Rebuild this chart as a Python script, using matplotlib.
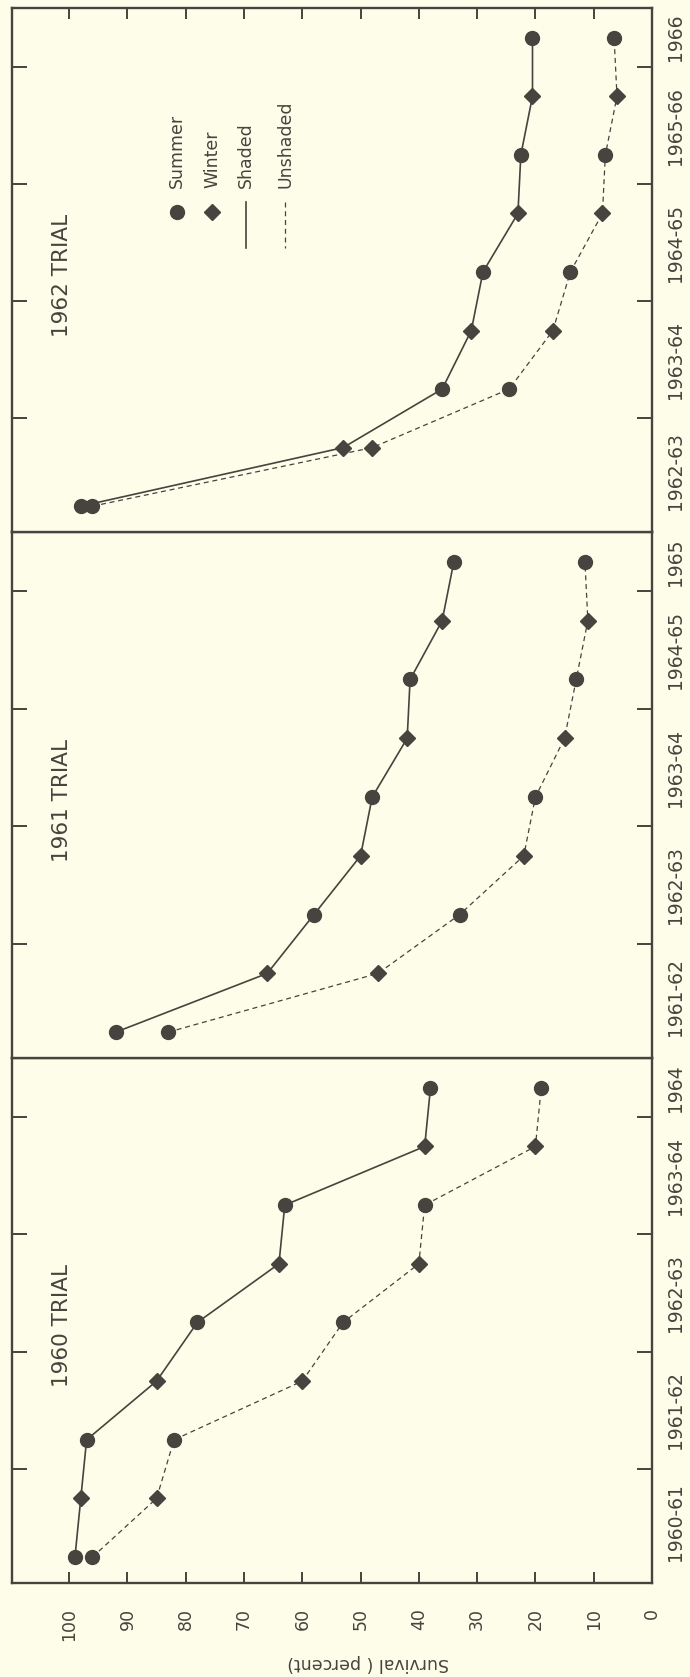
import numpy as np
import matplotlib.pyplot as plt

# survival (percent) at successive summer / winter counts, one list per trial
trials = ['1960 TRIAL', '1961 TRIAL', '1962 TRIAL']
shaded_1960 = [99, 98, 97, 85, 78, 64, 63, 39, 38]
unshaded_1960 = [96, 85, 82, 60, 53, 40, 39, 20, 19]
shaded_1961 = [92, 66, 58, 50, 48, 42, 41.5, 36, 34]
unshaded_1961 = [83, 47, 33, 22, 20, 15, 13, 11, 11.5]
shaded_1962 = [98, 53, 36, 31, 29, 23, 22.5, 20.5, 20.5]
unshaded_1962 = [96, 48, 24.5, 17, 14, 8.5, 8, 6, 6.5]

seasons_1960 = ['1960-61', '1961-62', '1962-63', '1963-64', '1964']
seasons_1961 = ['1961-62', '1962-63', '1963-64', '1964-65', '1965']
seasons_1962 = ['1962-63', '1963-64', '1964-65', '1965-66', '1966']

survival_ticks = list(range(0, 101, 10))

paper = '#fdfde9'
ink = '#47433e'

count = np.arange(len(shaded_1960))       # summer, winter, summer, ...
season_bounds = [1.5, 3.5, 5.5, 7.5]
season_centres = [0.6, 2.5, 4.5, 6.5, 8.0]

panels = [
    (trials[0], shaded_1960, unshaded_1960, seasons_1960, [0.0174, 0.0561, 0.9275, 0.3131]),
    (trials[1], shaded_1961, unshaded_1961, seasons_1961, [0.0174, 0.3691, 0.9275, 0.3137]),
    (trials[2], shaded_1962, unshaded_1962, seasons_1962, [0.0174, 0.6828, 0.9275, 0.3125]),
]

fig = plt.figure(figsize=(6.9, 16.77), dpi=100, facecolor=paper)

axes = []
for i, (name, shaded, unshaded, seasons, box) in enumerate(panels):
    ax = fig.add_axes(box)
    ax.set_facecolor(paper)
    axes.append(ax)

    ax.plot(shaded, count, '-', color=ink, lw=1.2)
    ax.plot(unshaded, count, linestyle=(0, (4, 3)), color=ink, lw=0.9)
    for vals in (shaded, unshaded):
        ax.plot(vals[0::2], count[0::2], 'o', ms=10, color=ink, mec=ink)
        ax.plot(vals[1::2], count[1::2], 'D', ms=8, color=ink, mec=ink)

    ax.set_xlim(109.8, 0)
    ax.set_ylim(-0.44, 8.51)

    # season boundaries on both sides, season names on the right
    ax.set_yticks(season_bounds)
    ax.set_yticklabels([])
    ax.tick_params(axis='y', which='major', direction='in', left=True, right=True,
                   length=11, width=1.4, color=ink, labelleft=False, labelright=False)
    ax.set_yticks(season_centres, minor=True)
    ax.set_yticklabels(seasons, minor=True, rotation=90, va='center')
    ax.tick_params(axis='y', which='minor', left=False, right=False, length=0,
                   labelleft=False, labelright=True, pad=10, labelsize=13.5,
                   labelcolor=ink)

    ax.set_xticks(survival_ticks)
    if i == 0:
        ax.tick_params(axis='x', direction='in', bottom=True, top=False, length=8,
                       width=1.4, color=ink, labelbottom=True, labelrotation=90,
                       pad=18, labelsize=12.5, labelcolor=ink)
    elif i == 2:
        ax.tick_params(axis='x', direction='in', bottom=False, top=True, length=8,
                       width=1.4, color=ink, labelbottom=False)
    else:
        ax.tick_params(axis='x', bottom=False, top=False, labelbottom=False)

    for s in ax.spines.values():
        s.set_linewidth(1.7)
        s.set_color(ink)

    ax.text(0.078, 0.49, name, transform=ax.transAxes, rotation=90,
            ha='center', va='center', fontsize=15.5, color=ink)

# key in the 1962 panel
key = axes[2]
key_labels = ['Summer', 'Winter', 'Shaded', 'Unshaded']
key_x = [0.258, 0.3125, 0.366, 0.427]
key.plot([key_x[0]], [0.611], 'o', ms=10, color=ink, transform=key.transAxes)
key.plot([key_x[1]], [0.611], 'D', ms=8, color=ink, transform=key.transAxes)
key.plot([key_x[2], key_x[2]], [0.630, 0.542], '-', color=ink, lw=1.2,
         transform=key.transAxes)
key.plot([key_x[3], key_x[3]], [0.630, 0.542], linestyle=(0, (4, 3)), color=ink,
         lw=0.9, transform=key.transAxes)
for lx, lab in zip(key_x, key_labels):
    key.text(lx, 0.657, lab, transform=key.transAxes, rotation=90,
             ha='center', va='bottom', fontsize=12.5, color=ink)

fig.text(368 / 690, 1 - 1663 / 1677, 'Survival ( percent)', rotation=180,
         ha='center', va='center', fontsize=12.5, color=ink)

fig.savefig('out.png', dpi=100, facecolor=paper)
